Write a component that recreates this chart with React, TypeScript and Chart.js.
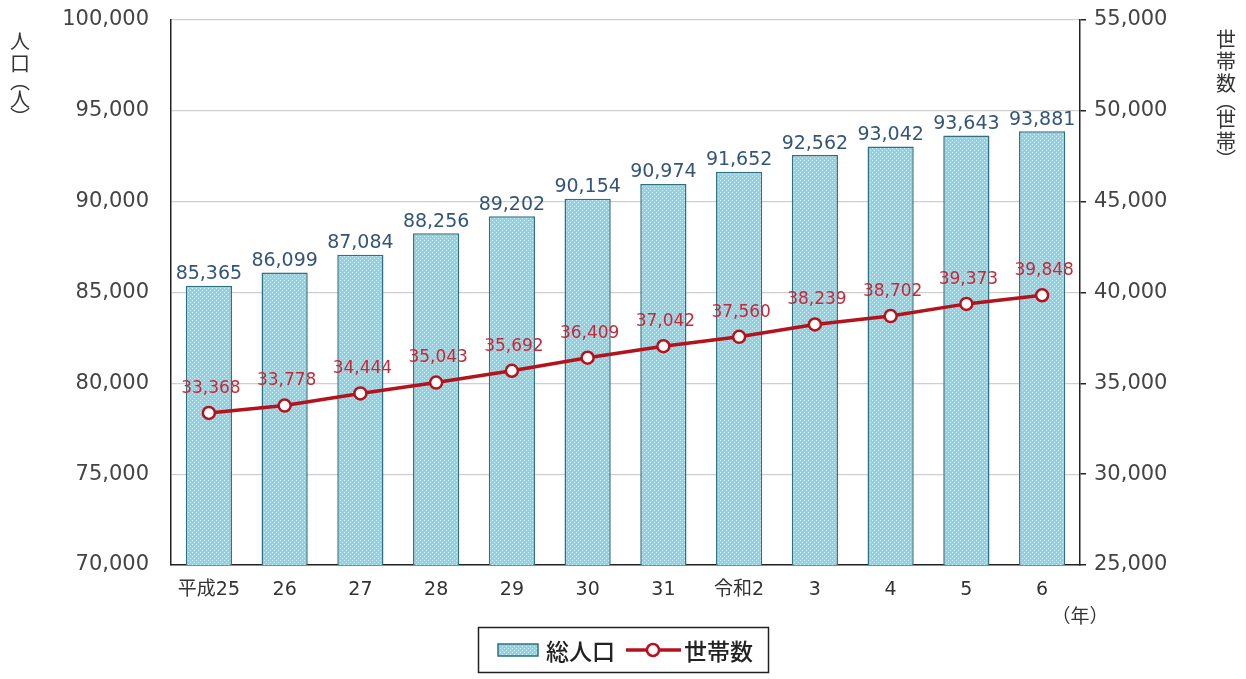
import React, { useEffect, useRef } from "react";
import { Chart, registerables } from "chart.js";

Chart.register(...registerables);

const categories = ["平成25", "26", "27", "28", "29", "30", "31", "令和2", "3", "4", "5", "6"];
const population = [85365, 86099, 87084, 88256, 89202, 90154, 90974, 91652, 92562, 93042, 93643, 93881];
const households = [33368, 33778, 34444, 35043, 35692, 36409, 37042, 37560, 38239, 38702, 39373, 39848];
const popLabel = "総人口";
const hhLabel = "世帯数";
const leftTitle = ["人", "口", "︵", "人", "︶"];
const rightTitle = ["世", "帯", "数", "︵", "世", "帯", "︶"];
const xUnit = "（年）";

const NUM_FONT = '"DejaVu Sans", "Noto Sans CJK JP", sans-serif';
const CJK_FONT = '"Noto Sans CJK JP", sans-serif';
const LINE_COLOR = "#b3131c";
const BAR_BORDER = "#2f7180";

function makePattern(): CanvasPattern | string {
  const c = document.createElement("canvas");
  c.width = 4;
  c.height = 4;
  const g = c.getContext("2d");
  if (!g) return "#9fd9e8";
  g.fillStyle = "#8ed2e4";
  g.fillRect(0, 0, 4, 4);
  g.fillStyle = "#d3f0f7";
  g.fillRect(0, 0, 1, 1);
  g.fillRect(2, 2, 1, 1);
  const p = g.createPattern(c, "repeat");
  return p || "#9fd9e8";
}

export default function App() {
  const ref = useRef<HTMLCanvasElement>(null);
  useEffect(() => {
    if (!ref.current) return;
    const pattern = makePattern();

    const drawVertical = (ctx: CanvasRenderingContext2D, chars: string[], x: number, y0: number) => {
      let y = y0;
      chars.forEach((ch) => {
        const paren = ch === "︵" || ch === "︶";
        const adv = paren ? 14 : 22;
        ctx.fillText(ch, x, y + adv / 2);
        y += adv;
      });
    };

    const customPlugin = {
      id: "custom",
      afterDatasetsDraw(chart: any) {
        const ctx = chart.ctx as CanvasRenderingContext2D;
        ctx.save();
        ctx.textAlign = "center";
        ctx.textBaseline = "bottom";
        ctx.font = `19px ${NUM_FONT}`;
        ctx.fillStyle = "#34557a";
        chart.getDatasetMeta(0).data.forEach((b: any, i: number) => {
          ctx.fillText(population[i].toLocaleString("en-US"), b.x, b.y - 2);
        });
        ctx.font = `17px ${NUM_FONT}`;
        ctx.fillStyle = "#c42a3a";
        chart.getDatasetMeta(1).data.forEach((p: any, i: number) => {
          ctx.fillText(households[i].toLocaleString("en-US"), p.x + 2, p.y - 16);
        });
        ctx.restore();
      },
      afterDraw(chart: any) {
        const ctx = chart.ctx as CanvasRenderingContext2D;
        ctx.save();
        ctx.fillStyle = "#333";
        ctx.textAlign = "center";
        ctx.textBaseline = "middle";
        ctx.font = `20px ${CJK_FONT}`;
        drawVertical(ctx, leftTitle, 20, 30);
        drawVertical(ctx, rightTitle, 1226, 28);
        ctx.font = `19px ${CJK_FONT}`;
        ctx.fillText(xUnit, 1080, 616);

        // legend
        ctx.strokeStyle = "#222";
        ctx.lineWidth = 1.5;
        ctx.strokeRect(478.5, 627.5, 290, 45);
        ctx.fillStyle = pattern as any;
        ctx.fillRect(498, 644, 40, 12);
        ctx.strokeStyle = BAR_BORDER;
        ctx.lineWidth = 1.5;
        ctx.strokeRect(498, 644, 40, 12);
        ctx.fillStyle = "#222";
        ctx.textAlign = "left";
        ctx.font = `500 23px ${CJK_FONT}`;
        ctx.fillText(popLabel, 546, 651);
        ctx.strokeStyle = LINE_COLOR;
        ctx.lineWidth = 3.5;
        ctx.beginPath();
        ctx.moveTo(626, 650);
        ctx.lineTo(681, 650);
        ctx.stroke();
        ctx.beginPath();
        ctx.arc(653, 650, 6, 0, Math.PI * 2);
        ctx.fillStyle = "#fff";
        ctx.fill();
        ctx.lineWidth = 2.5;
        ctx.stroke();
        ctx.fillStyle = "#222";
        ctx.fillText(hhLabel, 684, 651);
        ctx.restore();
      },
    };

    const chart = new Chart(ref.current, {
      type: "bar",
      data: {
        labels: categories,
        datasets: [
          {
            type: "bar",
            label: popLabel,
            data: population,
            backgroundColor: pattern as any,
            borderColor: BAR_BORDER,
            borderWidth: 1.5,
            yAxisID: "y",
            barPercentage: 0.61,
            categoryPercentage: 1,
            order: 2,
          },
          {
            type: "line",
            label: hhLabel,
            data: households,
            borderColor: LINE_COLOR,
            borderWidth: 3.5,
            pointRadius: 6,
            pointBorderWidth: 2.5,
            pointBackgroundColor: "#fff",
            pointBorderColor: LINE_COLOR,
            tension: 0,
            yAxisID: "y1",
            order: 1,
          },
        ] as any,
      },
      options: {
        animation: false,
        responsive: true,
        maintainAspectRatio: false,
        layout: { padding: { top: 20, left: 0, right: 0, bottom: 0 } },
        plugins: { legend: { display: false }, tooltip: { enabled: false } },
        scales: {
          x: {
            grid: { display: false, drawTicks: false },
            border: { display: true, color: "#222", width: 1.5 },
            ticks: { color: "#333", font: { family: NUM_FONT, size: 19 }, padding: 14, maxRotation: 0 },
            afterFit: (s: any) => {
              s.height = 114;
              s.paddingLeft = 0;
              s.paddingRight = 0;
            },
          },
          y: {
            position: "left",
            min: 70000,
            max: 100000,
            ticks: {
              stepSize: 5000,
              color: "#444",
              padding: 22,
              font: { family: NUM_FONT, size: 21 },
              callback: (v: any) => Number(v).toLocaleString("en-US"),
            },
            grid: { color: "#cfcfcf", lineWidth: 1.2, drawTicks: false },
            border: { display: true, color: "#222", width: 1.5 },
            afterFit: (s: any) => {
              s.width = 171;
              s.paddingTop = 0;
              s.paddingBottom = 0;
            },
          },
          y1: {
            position: "right",
            min: 25000,
            max: 55000,
            ticks: {
              stepSize: 5000,
              color: "#444",
              padding: 8,
              font: { family: NUM_FONT, size: 21 },
              callback: (v: any) => Number(v).toLocaleString("en-US"),
            },
            grid: { drawOnChartArea: false, color: "#222", tickLength: 6, lineWidth: 1.5 },
            border: { display: true, color: "#222", width: 1.5 },
            afterFit: (s: any) => {
              s.width = 166;
              s.paddingTop = 0;
              s.paddingBottom = 0;
            },
          },
        },
      },
      plugins: [customPlugin],
    });
    return () => chart.destroy();
  }, []);

  return (
    <div style={{ position: "fixed", left: 0, top: 0, width: 1246, height: 679, background: "#fff" }}>
      <canvas ref={ref} />
    </div>
  );
}
